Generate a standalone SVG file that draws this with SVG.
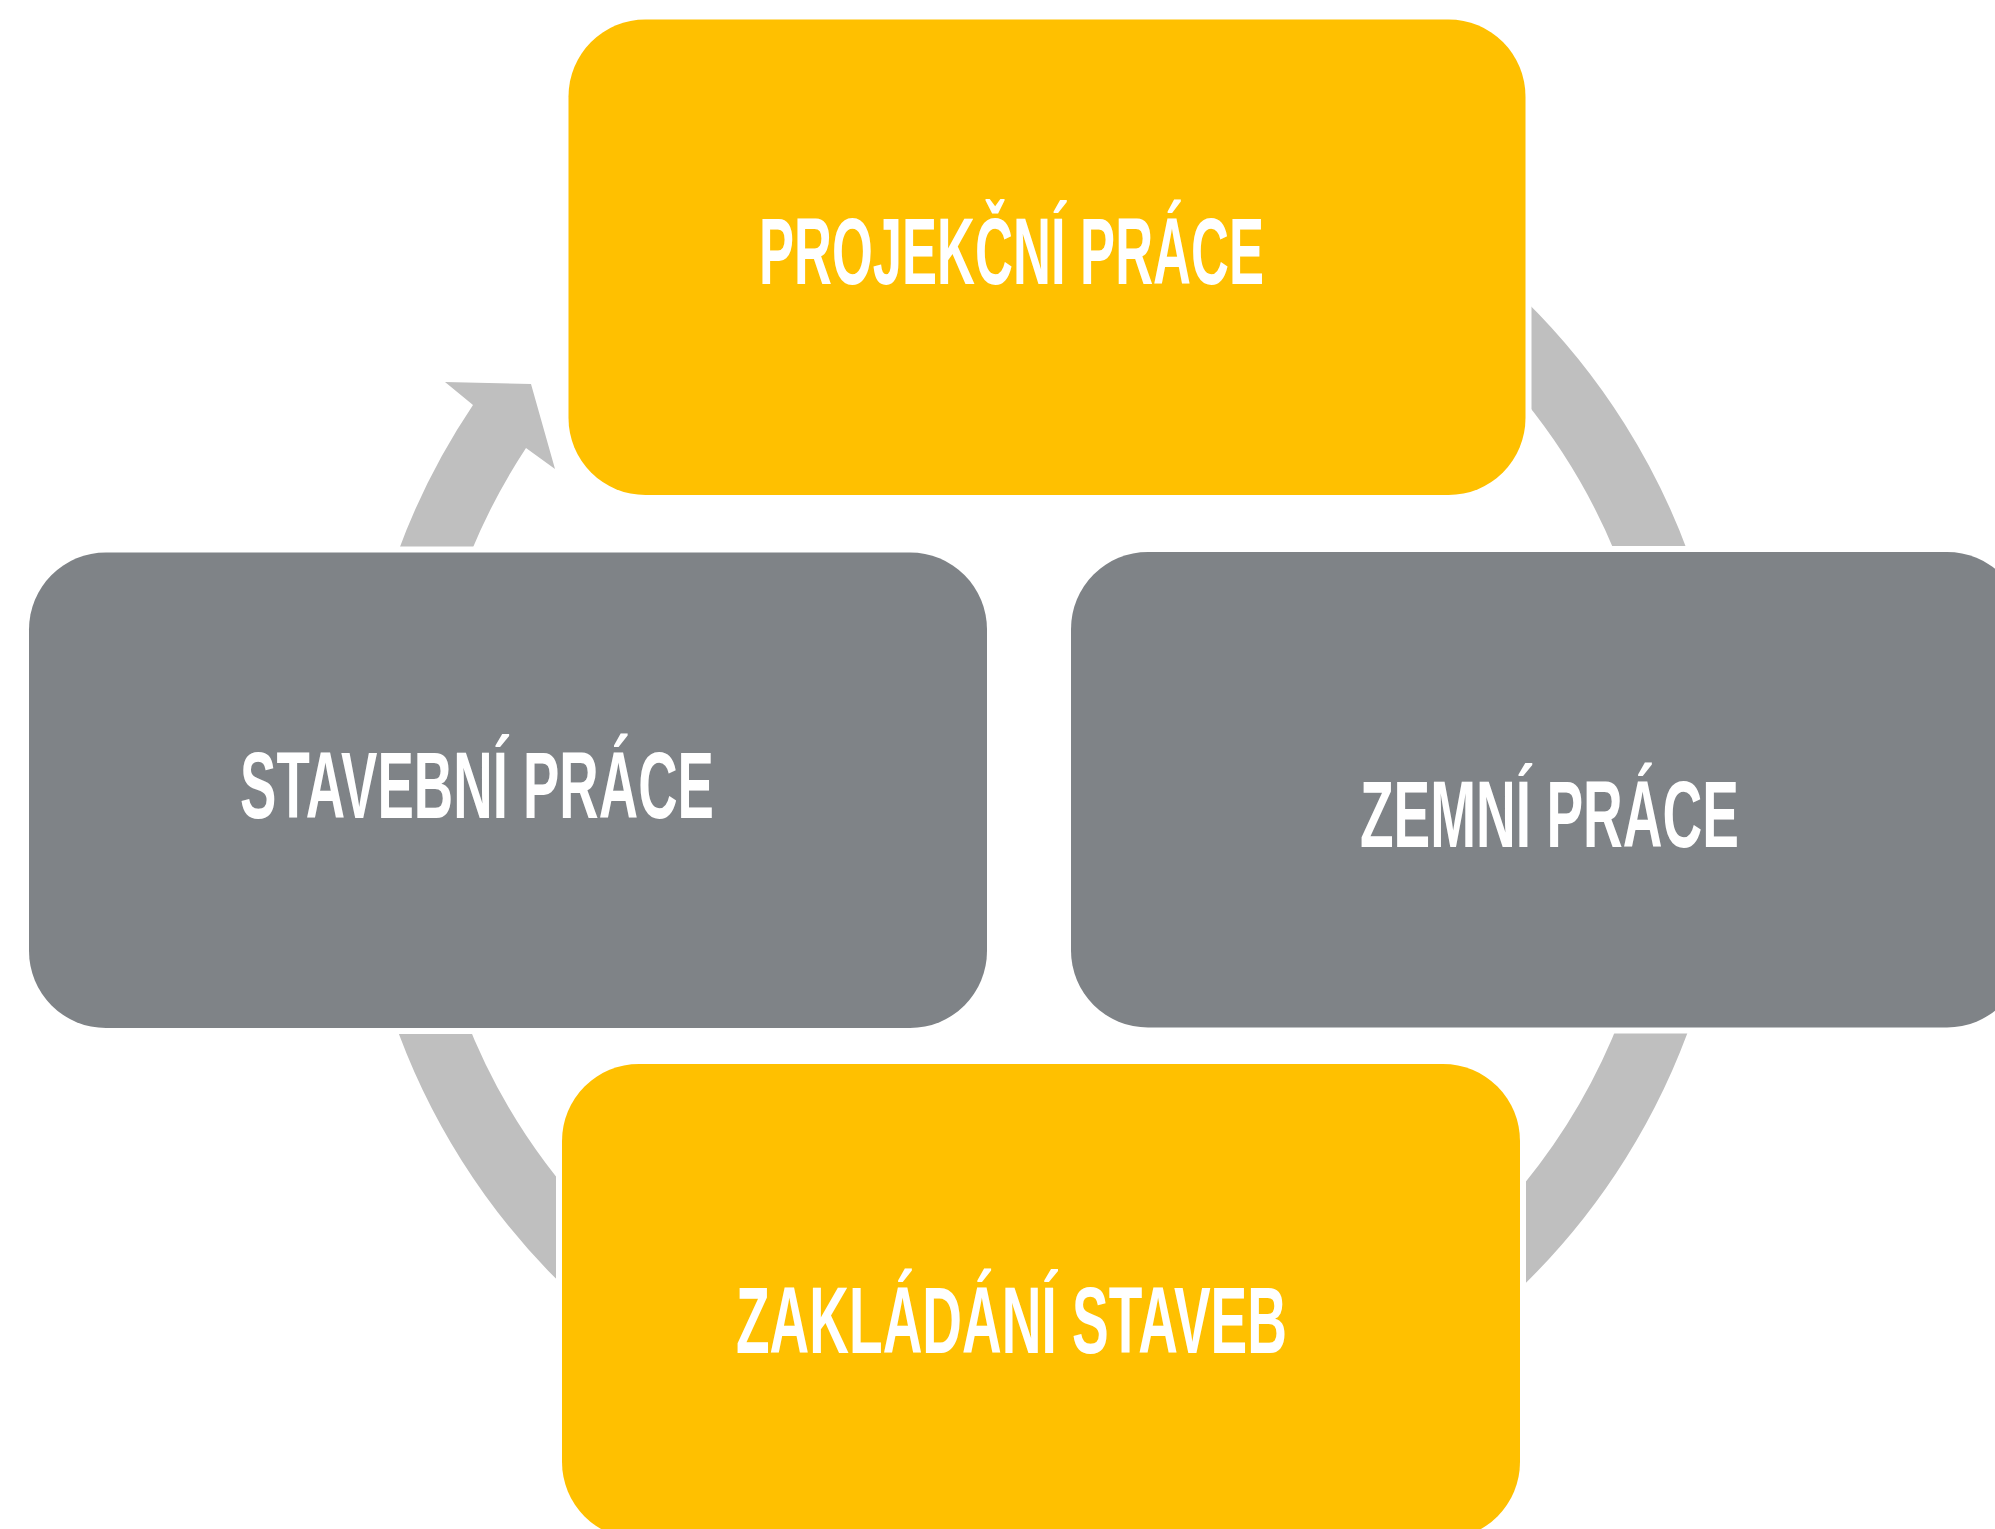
<svg xmlns="http://www.w3.org/2000/svg" width="1995" height="1529" viewBox="0 0 1995 1529">
<style>
.arc{fill:#BFBFBF;stroke:none}
.yel{fill:#FFC000;stroke:#FFFFFF;stroke-width:12;paint-order:stroke}
.gry{fill:#7F8387;stroke:#FFFFFF;stroke-width:12;paint-order:stroke}
.lbl{font-family:"Liberation Sans",Arial,sans-serif;font-weight:bold;font-size:94px;fill:#FFFFFF}
</style>
<rect width="1995" height="1529" fill="#FFFFFF"/>
<g id="connectors">
<path class="arc" d="M 382.4,600 A 687.5 687.5 0 0 1 473,405 L 445,382 L 531,384 L 555,469 L 526,448 A 619.5 619.5 0 0 0 453.5,600 Z"/>
<path class="arc" d="M 1500,276.9 A 687.5 687.5 0 0 1 1703.6,600 L 1632.5,600 A 619.5 619.5 0 0 0 1500,372.3 Z"/>
<path class="arc" d="M 1704.7,980 A 687.5 687.5 0 0 1 1500,1307.1 L 1500,1211.7 A 619.5 619.5 0 0 0 1633.8,980 Z"/>
<path class="arc" d="M 590,1310.7 A 687.5 687.5 0 0 1 381.3,980 L 452.2,980 A 619.5 619.5 0 0 0 590,1216.1 Z"/>
</g>
<g id="node-projekcni">
<rect class="yel" x="568.5" y="19.5" width="957" height="475.5" rx="77" ry="77"/>
<text class="lbl" x="759" y="284" textLength="505" lengthAdjust="spacingAndGlyphs">PROJEKČNÍ PRÁCE</text>
</g>
<g id="node-stavebni">
<rect class="gry" x="29" y="552.5" width="958" height="475.5" rx="77" ry="77"/>
<text class="lbl" x="240" y="818" textLength="474" lengthAdjust="spacingAndGlyphs">STAVEBNÍ PRÁCE</text>
</g>
<g id="node-zemni">
<rect class="gry" x="1071" y="552" width="953" height="475.5" rx="77" ry="77"/>
<text class="lbl" x="1360" y="847" textLength="379" lengthAdjust="spacingAndGlyphs">ZEMNÍ PRÁCE</text>
</g>
<g id="node-zakladani">
<rect class="yel" x="562" y="1064" width="958" height="475" rx="77" ry="77"/>
<text class="lbl" x="736" y="1353" textLength="551" lengthAdjust="spacingAndGlyphs">ZAKLÁDÁNÍ STAVEB</text>
</g>
</svg>
